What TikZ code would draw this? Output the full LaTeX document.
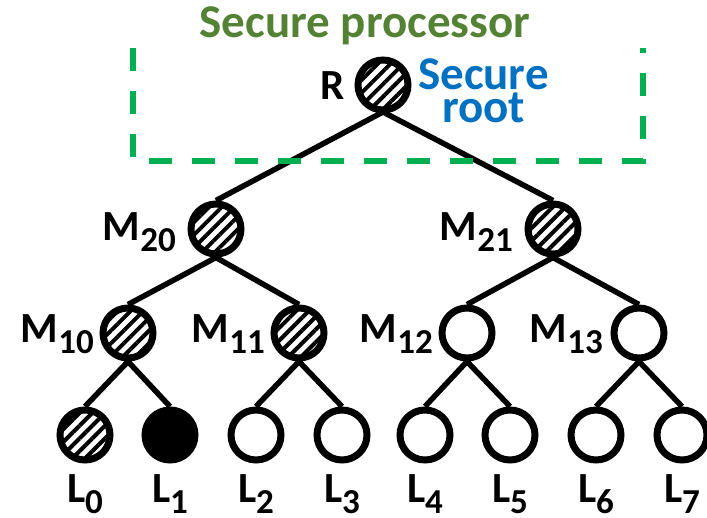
\documentclass[tikz,border=0pt]{standalone}
\usepackage{fontspec}
\setmainfont{Carlito}
\usetikzlibrary{patterns.meta,backgrounds}
\definecolor{procgreen}{RGB}{84,130,53}
\definecolor{rootblue}{RGB}{0,112,192}
\definecolor{dashgreen}{RGB}{0,176,80}
% lowered, slightly smaller index text
\newcommand\lowsub[1]{\raisebox{-11pt}[13pt][11pt]{\fontsize{35}{35}\selectfont #1}}

\begin{document}
\begin{tikzpicture}[x=1pt,y=-1pt,
  treenode/.style={circle,draw,line width=7pt,minimum size=50pt,inner sep=0pt},
  hatched/.style={treenode,pattern={Lines[angle=45,distance=9pt,line width=4pt]}},
  opennode/.style={treenode,fill=white},
  filledleaf/.style={treenode,fill=black},
  link/.style={line width=5.5pt},
  lbl/.style={font=\fontsize{43}{43}\selectfont\bfseries,inner sep=0pt},
  biglbl/.style={font=\fontsize{47}{33}\selectfont\bfseries,inner sep=0pt},
]
\useasboundingbox (0,0) rectangle (707,518);

% secure processor boundary (open at the top)
\draw[dashgreen,line width=6pt,dash pattern=on 23pt off 20pt]
  (133,48) -- (133,161) -- (643,161) -- (643,48);
\node[biglbl,text=procgreen,anchor=base] (proc) at (365,38) {Secure processor};

% tree nodes
\node[hatched] (R) at (383,85) {};
\node[hatched] (M20) at (216,229) {};
\node[hatched] (M21) at (553,229) {};
\node[hatched] (M10) at (128,333) {};
\node[hatched] (M11) at (299,333) {};
\node[opennode] (M12) at (467,333) {};
\node[opennode] (M13) at (639,333) {};
\node[hatched] (L0) at (85,435) {};
\node[filledleaf] (L1) at (170,435) {};
\node[opennode] (L2) at (256,435) {};
\node[opennode] (L3) at (342,435) {};
\node[opennode] (L4) at (425,435) {};
\node[opennode] (L5) at (510,435) {};
\node[opennode] (L6) at (596,435) {};
\node[opennode] (L7) at (682,435) {};

% edges
\begin{scope}[on background layer]
\draw[link] (R.south) -- (M20.north);
\draw[link] (R.south) -- (M21.north);
\draw[link] (M20.south) -- (M10.north);
\draw[link] (M20.south) -- (M11.north);
\draw[link] (M21.south) -- (M12.north);
\draw[link] (M21.south) -- (M13.north);
\draw[link] (M10.south) -- (L0.north);
\draw[link] (M10.south) -- (L1.north);
\draw[link] (M11.south) -- (L2.north);
\draw[link] (M11.south) -- (L3.north);
\draw[link] (M12.south) -- (L4.north);
\draw[link] (M12.south) -- (L5.north);
\draw[link] (M13.south) -- (L6.north);
\draw[link] (M13.south) -- (L7.north);
\end{scope}

% labels
\node[lbl,anchor=base east] (tR) at (345,100) {R};
\node[biglbl,text=rootblue,align=center] (sroot) at (483.5,90.5) {Secure\\root};
\node[lbl,anchor=base east] (tM20) at (176,241) {M\lowsub{20}};
\node[lbl,anchor=base east] (tM21) at (513,241) {M\lowsub{21}};
\node[lbl,anchor=base east] (tM10) at (94,343) {M\lowsub{10}};
\node[lbl,anchor=base east] (tM11) at (265,343) {M\lowsub{11}};
\node[lbl,anchor=base east] (tM12) at (433,343) {M\lowsub{12}};
\node[lbl,anchor=base east] (tM13) at (603,343) {M\lowsub{13}};
\foreach \i/\x in {0/85,1/170,2/256,3/342,4/425,5/510,6/596,7/682}
  \node[lbl,anchor=base] (tL\i) at (\x,502) {L\lowsub{\i}};
\end{tikzpicture}
\end{document}
